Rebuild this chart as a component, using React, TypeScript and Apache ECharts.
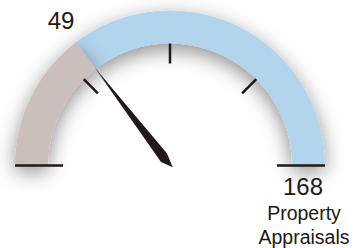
import React, { useEffect, useRef } from "react";
import * as echarts from "echarts";

const gaugeMin = 0;
const gaugeMax = 168;
const gaugeValue = 49;
const gaugeName = "Property\nAppraisals";

const FONT = "'Liberation Sans', Arial, Helvetica, sans-serif";
const INK = "#231815";
const BEIGE = "#cbbfbc";
const BLUE = "#b2d4ec";

export default function App() {
  const ref = useRef<HTMLDivElement>(null);
  useEffect(() => {
    if (!ref.current) return;
    const chart = echarts.init(ref.current, null, { renderer: "svg" });
    const center = [170, 165.5];
    const radius = 155;
    chart.setOption({
      animation: false,
      backgroundColor: "#ffffff",
      series: [
        {
          type: "gauge",
          z: 2,
          center,
          radius,
          startAngle: 180,
          endAngle: 0,
          min: gaugeMin,
          max: gaugeMax,
          axisLine: {
            show: true,
            lineStyle: {
              width: 33,
              color: [
                [(gaugeValue - gaugeMin) / (gaugeMax - gaugeMin), BEIGE],
                [1, BLUE],
              ],
              shadowBlur: 20,
              shadowColor: "rgba(0,0,0,0.45)",
              shadowOffsetY: 6,
            },
          },
          axisTick: { show: false },
          splitLine: { show: false },
          axisLabel: { show: false },
          pointer: {
            show: true,
            icon: "path://M5,0 L10,110 L6,124 L0,113 Z",
            length: 127,
            width: 10,
            offsetCenter: [0, 3],
            itemStyle: { color: INK },
          },
          anchor: { show: false },
          title: {
            show: true,
            offsetCenter: [134, 59],
            fontSize: 19.5,
            lineHeight: 24,
            color: INK,
            fontFamily: FONT,
          },
          detail: {
            show: true,
            offsetCenter: [-109, -145],
            fontSize: 24,
            color: INK,
            fontFamily: FONT,
            fontWeight: "normal",
            formatter: (v: number) => String(v),
          },
          data: [{ value: gaugeValue, name: gaugeName }],
        },
        {
          type: "gauge",
          z: 3,
          center,
          radius,
          startAngle: 180,
          endAngle: 0,
          min: gaugeMin,
          max: gaugeMax,
          splitNumber: 1,
          axisLine: { show: false, lineStyle: { width: 0 } },
          axisTick: { show: false },
          splitLine: {
            show: true,
            length: 48,
            distance: 0,
            lineStyle: { color: INK, width: 2.5 },
          },
          axisLabel: { show: false },
          pointer: { show: false },
          anchor: { show: false },
          title: { show: false },
          detail: {
            show: true,
            offsetCenter: [133, 21],
            fontSize: 24,
            color: INK,
            fontFamily: FONT,
            fontWeight: "normal",
            formatter: (v: number) => String(v),
          },
          data: [{ value: gaugeMax }],
        },
        {
          type: "gauge",
          z: 3,
          center,
          radius,
          startAngle: 135,
          endAngle: 45,
          min: 0,
          max: 2,
          splitNumber: 2,
          axisLine: { show: false, lineStyle: { width: 33 } },
          axisTick: { show: false },
          splitLine: {
            show: true,
            length: 20,
            distance: 0,
            lineStyle: { color: INK, width: 2.5 },
          },
          axisLabel: { show: false },
          pointer: { show: false },
          anchor: { show: false },
          title: { show: false },
          detail: { show: false },
          data: [{ value: 0 }],
        },
      ],
    });
    return () => chart.dispose();
  }, []);
  return (
    <div
      ref={ref}
      style={{ position: "fixed", left: 0, top: 0, width: 362, height: 248 }}
    />
  );
}
